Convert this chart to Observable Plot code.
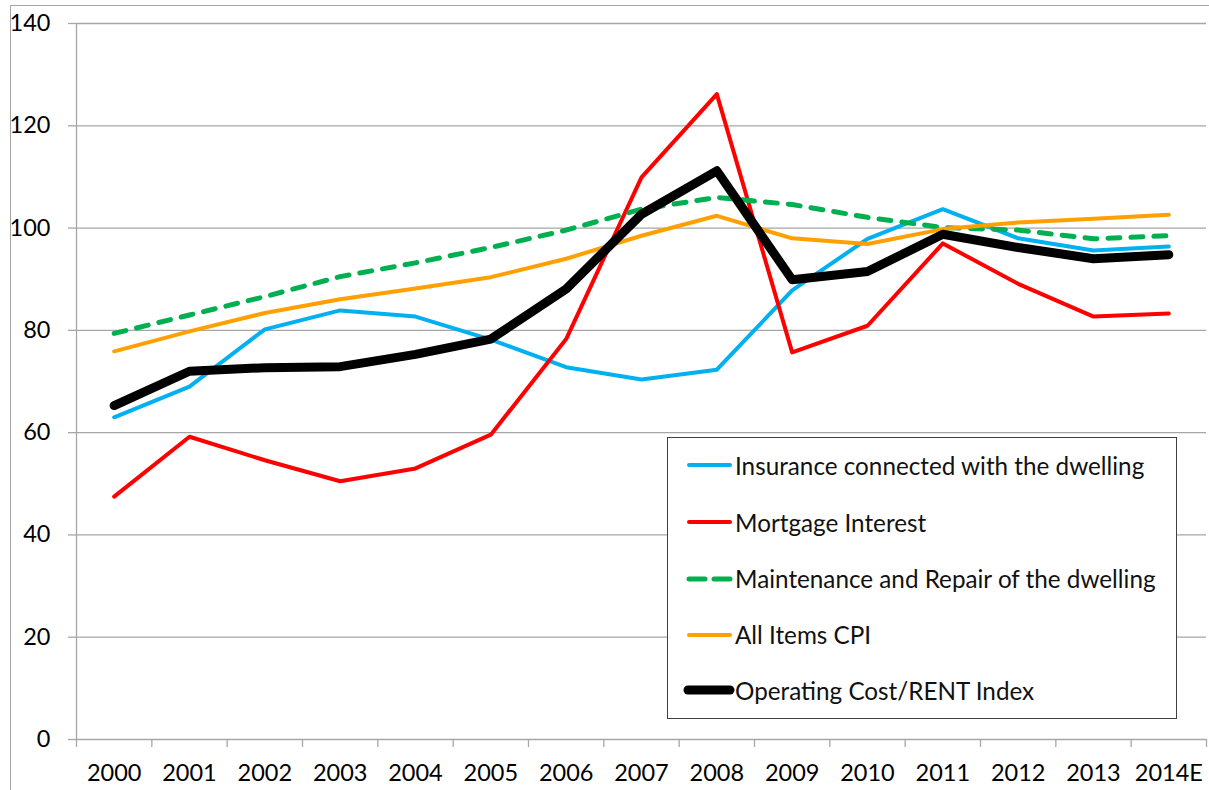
<!DOCTYPE html>
<html>
<head>
<meta charset="utf-8">
<script src="https://cdn.jsdelivr.net/npm/d3@7"></script>
<script src="https://cdn.jsdelivr.net/npm/@observablehq/plot@0.6"></script>
<style>
  html, body { margin: 0; padding: 0; background: #fff; overflow: hidden; }
  #wrap { position: relative; width: 1209px; height: 790px; font-family: Lato, "Open Sans", sans-serif; }
  #outer { position: absolute; left: 10px; top: 5px; width: 1300px; height: 900px; border: 1.5px solid #a6a6a6; pointer-events: none; }
  #legend { position: absolute; left: 667px; top: 437px; width: 508px; height: 280px; border: 1.5px solid #404040; background: #fff; }
  .row { position: absolute; left: 0; height: 30px; display: flex; align-items: center; font-size: 24.25px; color: #111; white-space: nowrap; }
  .row svg { width: 67px; height: 30px; flex: none; }
</style>
</head>
<body>
<div id="wrap">
  <div id="chart"></div>
  <div id="outer"></div>
  <div id="legend"></div>
</div>
<script>
const years = ["2000","2001","2002","2003","2004","2005","2006","2007","2008","2009","2010","2011","2012","2013","2014E"];
const insurance   = [63.0, 69.0, 80.2, 83.9, 82.7, 78.2, 72.8, 70.4, 72.3, 87.8, 97.9, 103.7, 98.0, 95.6, 96.4];
const mortgage    = [47.5, 59.2, 54.6, 50.5, 53.0, 59.6, 78.3, 109.9, 126.2, 75.7, 80.9, 97.0, 89.1, 82.7, 83.3];
const maintenance = [79.4, 83.0, 86.6, 90.5, 93.2, 96.2, 99.6, 103.7, 106.0, 104.6, 102.1, 100.1, 99.6, 97.9, 98.5];
const cpi         = [75.9, 79.8, 83.4, 86.1, 88.2, 90.4, 94.0, 98.5, 102.4, 98.0, 96.9, 99.8, 101.1, 101.8, 102.6];
const rentIndex   = [65.3, 72.0, 72.7, 72.9, 75.3, 78.3, 88.1, 102.7, 111.2, 89.9, 91.5, 98.8, 96.2, 94.0, 94.8];
const yTicks = [0, 20, 40, 60, 80, 100, 120, 140];

const seriesNames = [
  "Insurance connected with the dwelling",
  "Mortgage Interest",
  "Maintenance and Repair of the dwelling",
  "All Items CPI",
  "Operating Cost/RENT Index"
];
const seriesValues = [insurance, mortgage, maintenance, cpi, rentIndex];
const seriesStyle = [
  {stroke: "#00B0F0", strokeWidth: 4},
  {stroke: "#FF0000", strokeWidth: 4},
  {stroke: "#00B050", strokeWidth: 5, strokeDasharray: "12,11"},
  {stroke: "#FFA000", strokeWidth: 4},
  {stroke: "#000000", strokeWidth: 9}
];

const idx = years.map((_, i) => i);
const boundaries = d3.range(-0.5, years.length, 1);

const lineMarks = seriesValues.map((vals, s) =>
  Plot.line(idx.map(i => ({i, v: vals[i]})), {
    x: "i", y: "v",
    ...seriesStyle[s],
    strokeLinejoin: "round", strokeLinecap: "round"
  })
);

const chart = Plot.plot({
  width: 1209,
  height: 790,
  marginLeft: 76,
  marginRight: 3,
  marginTop: 23,
  marginBottom: 51,
  style: {fontFamily: "Lato, 'Open Sans', sans-serif", fontSize: "23.5px", color: "#000", background: "transparent"},
  x: {type: "linear", domain: [-0.5, years.length - 0.5]},
  y: {domain: [0, 140]},
  marks: [
    Plot.gridY(yTicks, {stroke: "#a6a6a6", strokeOpacity: 1, strokeWidth: 1.3}),
    Plot.ruleX([-0.5], {stroke: "#a6a6a6", strokeWidth: 1.3}),
    Plot.axisY(yTicks, {tickSize: 8, tickPadding: 18, stroke: "#a6a6a6", strokeWidth: 1.3, fill: "#000", fontSize: 23.5, label: null}),
    Plot.axisX(boundaries, {tickSize: 8, tickFormat: () => "", stroke: "#a6a6a6", strokeWidth: 1.3, label: null}),
    Plot.axisX(idx, {tickSize: 0, tickPadding: 25, tickFormat: i => years[i], fill: "#000", fontSize: 23.5, label: null}),
    ...lineMarks
  ]
});
document.getElementById("chart").appendChild(chart);

// Legend
const legend = document.getElementById("legend");
const rowCenters = [27, 84, 140.5, 196.5, 252];
seriesNames.forEach((name, s) => {
  const row = document.createElement("div");
  row.className = "row";
  row.style.top = (rowCenters[s] - 15) + "px";
  const st = seriesStyle[s];
  const ns = "http://www.w3.org/2000/svg";
  const svg = document.createElementNS(ns, "svg");
  const ln = document.createElementNS(ns, "line");
  ln.setAttribute("x1", s === 4 ? 20 : 21); ln.setAttribute("x2", s === 4 ? 62 : 62);
  ln.setAttribute("y1", 15); ln.setAttribute("y2", 15);
  ln.setAttribute("stroke", st.stroke);
  ln.setAttribute("stroke-width", st.strokeWidth);
  ln.setAttribute("stroke-linecap", "round");
  if (st.strokeDasharray) ln.setAttribute("stroke-dasharray", "16,9");
  svg.appendChild(ln);
  const span = document.createElement("span");
  span.textContent = name;
  row.appendChild(svg);
  row.appendChild(span);
  legend.appendChild(row);
});
</script>
</body>
</html>
